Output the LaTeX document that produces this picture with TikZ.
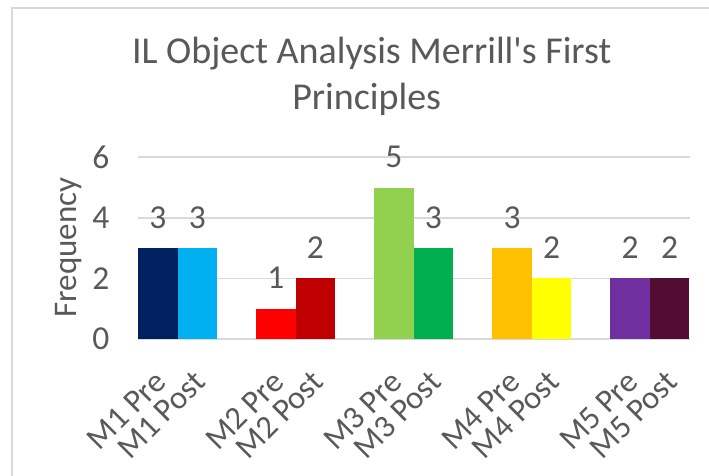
\documentclass[tikz,border=0pt]{standalone}
\usepackage{fontspec}
\setmainfont{Carlito}[Ligatures=TeXOff]
\definecolor{txt}{HTML}{595959}
\definecolor{gridc}{HTML}{D9D9D9}
\definecolor{cA}{HTML}{002060}
\definecolor{cB}{HTML}{00B0F0}
\definecolor{cC}{HTML}{FF0000}
\definecolor{cD}{HTML}{C00000}
\definecolor{cE}{HTML}{92D050}
\definecolor{cF}{HTML}{00B050}
\definecolor{cG}{HTML}{FFC000}
\definecolor{cH}{HTML}{FFFF00}
\definecolor{cI}{HTML}{7030A0}
\definecolor{cJ}{HTML}{540D32}
\tikzset{
  gridline/.style={draw=gridc, line width=1.6pt},
  ticklbl/.style={text=txt, font=\fontsize{33.5}{40}\selectfont, anchor=east, inner sep=0pt},
  vallbl/.style={text=txt, font=\fontsize{33.5}{40}\selectfont, inner sep=0pt},
  catlbl/.style={text=txt, font=\fontsize{32.5}{38}\selectfont, rotate=45, anchor=east, inner sep=0pt},
  titlelbl/.style={text=txt, font=\fontsize{38}{46}\selectfont, anchor=base, inner sep=0pt},
}
\begin{document}
\begin{tikzpicture}[x=1pt,y=-1pt]
\useasboundingbox (0,0) rectangle (709,476);
\fill[white] (0,0) rectangle (709,476);
% chart frame
\draw[gridc, line width=1.6pt] (12,476) -- (12,8) -- (709,8);
% title
\node[titlelbl] (title1) at (371.7,64) {IL Object Analysis Merrill's First};
\node[titlelbl] (title2) at (366.7,109.5) {Principles};
% axis title
\node[text=txt, font=\fontsize{33}{40}\selectfont, rotate=90, inner sep=0pt] (ytitle) at (68.5,247.5) {Frequency};
% gridlines and tick labels
\foreach \v in {0,2,4,6}{
  \draw[gridline] (138,{339-30.3*\v}) -- (690,{339-30.3*\v});
  \node[ticklbl] (tick\v) at (109.5,{339-30.3*\v}) {\v};
}
% bars, value labels, category labels
\foreach \i/\pre/\post/\cpre/\cpost in {1/3/3/cA/cB, 2/1/2/cC/cD, 3/5/3/cE/cF, 4/3/2/cG/cH, 5/2/2/cI/cJ}{
  \pgfmathsetmacro{\gx}{138+118.1*(\i-1)}
  \fill[\cpre] (\gx,339) rectangle ({\gx+39.5},{339-30.3*\pre});
  \fill[\cpost] ({\gx+39.5},339) rectangle ({\gx+79},{339-30.3*\post});
  \node[vallbl] (vpre\i) at ({\gx+19.75},{339-30.3*\pre-30.5}) {\pre};
  \node[vallbl] (vpost\i) at ({\gx+59.25},{339-30.3*\post-30.5}) {\post};
  \node[catlbl] (cpre\i) at ({\gx+22.25},376.5) {M\i{} Pre};
  \node[catlbl] (cpost\i) at ({\gx+61.75},376.5) {M\i{} Post};
}
\end{tikzpicture}
\end{document}
